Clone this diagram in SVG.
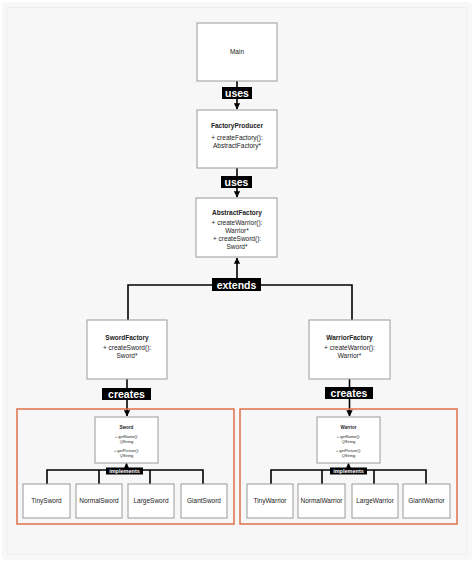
<svg xmlns="http://www.w3.org/2000/svg" width="474" height="562" viewBox="0 0 474 562">
<style>
.box{fill:#fff;stroke:#9a9a9a;stroke-width:1}
.frame{fill:none;stroke:#e0704a;stroke-width:1.5}
.t{font-family:"Liberation Sans",Arial,sans-serif;fill:#222;text-anchor:middle}
.b{font-weight:bold}
.lbl{fill:#000}
.lt{font-family:"Liberation Sans",Arial,sans-serif;font-weight:bold;fill:#fff;text-anchor:middle}
.c{fill:none;stroke:#000;stroke-width:1.6}
</style>
<defs>
<marker id="ah" viewBox="0 0 6 6" refX="5.5" refY="3" markerWidth="4" markerHeight="4" orient="auto">
<path d="M0,0 L6,3 L0,6 Z" fill="#000"/>
</marker>
</defs>
<rect x="0" y="0" width="474" height="562" fill="#ffffff"/>
<rect x="2" y="2" width="470" height="558" rx="4" fill="#f7f7f7"/>
<rect x="7.5" y="7.5" width="459" height="547" fill="none" stroke="#efefef" stroke-width="1"/>

<g id="connectors">
<line class="c" x1="237" y1="81" x2="237" y2="109" marker-end="url(#ah)"/>
<line class="c" x1="237" y1="168" x2="237" y2="197" marker-end="url(#ah)"/>
<path class="c" d="M128,321 V285 H352 V321"/>
<line class="c" x1="237" y1="285" x2="237" y2="258" marker-end="url(#ah)"/>
<line class="c" x1="127" y1="379" x2="127" y2="416" marker-end="url(#ah)"/>
<line class="c" x1="349.5" y1="379" x2="349.5" y2="416" marker-end="url(#ah)"/>
<path class="c" d="M47,484 V470 H203 V484 M99,470 V484 M150,470 V484"/>
<line class="c" x1="126.5" y1="470" x2="126.5" y2="463.5" marker-end="url(#ah)"/>
<path class="c" d="M271,484 V470 H426 V484 M322,470 V484 M374,470 V484"/>
<line class="c" x1="348.5" y1="470" x2="348.5" y2="463.5" marker-end="url(#ah)"/>
<rect class="lbl" x="222" y="87" width="30" height="12"/>
<text class="lt" x="237" y="97" font-size="10.5">uses</text>
<rect class="lbl" x="221" y="176" width="31" height="12"/>
<text class="lt" x="236.5" y="186" font-size="10.5">uses</text>
<rect class="lbl" x="212" y="278" width="49" height="13"/>
<text class="lt" x="236.5" y="288.5" font-size="10.5">extends</text>
<rect class="lbl" x="102" y="388" width="49" height="12"/>
<text class="lt" x="126.5" y="398" font-size="10.5">creates</text>
<rect class="lbl" x="325" y="387" width="48" height="12"/>
<text class="lt" x="349" y="397" font-size="10.5">creates</text>
<rect class="lbl" x="106" y="467.5" width="37" height="7"/>
<text class="lt" x="124.5" y="473" font-size="5.5">implements</text>
<rect class="lbl" x="330" y="467.5" width="37" height="7"/>
<text class="lt" x="348.5" y="473" font-size="5.5">implements</text>
</g>

<rect class="frame" x="17" y="409" width="217" height="115"/>
<rect class="frame" x="240" y="409" width="217" height="115"/>

<g id="main">
<rect class="box" x="197" y="23" width="80" height="58"/>
<text class="t" x="237" y="54" font-size="6.5">Main</text>
</g>
<g id="factoryproducer">
<rect class="box" x="197" y="110" width="80" height="58"/>
<text class="t b" x="237" y="128" font-size="6.5">FactoryProducer</text>
<text class="t" x="237" y="140" font-size="6.5">+ createFactory():</text>
<text class="t" x="237" y="148" font-size="6.5">AbstractFactory*</text>
</g>
<g id="abstractfactory">
<rect class="box" x="196" y="198" width="81" height="59"/>
<text class="t b" x="237" y="215" font-size="6.5">AbstractFactory</text>
<text class="t" x="237" y="225" font-size="6.5">+ createWarrior():</text>
<text class="t" x="237" y="233" font-size="6.5">Warrior*</text>
<text class="t" x="237" y="241" font-size="6.5">+ createSword():</text>
<text class="t" x="237" y="249" font-size="6.5">Sword*</text>
</g>
<g id="swordfactory">
<rect class="box" x="87" y="320" width="80" height="59"/>
<text class="t b" x="127" y="340" font-size="6.5">SwordFactory</text>
<text class="t" x="127" y="350" font-size="6.5">+ createSword():</text>
<text class="t" x="127" y="358" font-size="6.5">Sword*</text>
</g>
<g id="warriorfactory">
<rect class="box" x="309" y="320" width="81" height="59"/>
<text class="t b" x="349.5" y="340" font-size="6.5">WarriorFactory</text>
<text class="t" x="349.5" y="350" font-size="6.5">+ createWarrior():</text>
<text class="t" x="349.5" y="358" font-size="6.5">Warrior*</text>
</g>
<g id="sword">
<rect class="box" x="95" y="417" width="63" height="46"/>
<text class="t b" x="126.5" y="429" font-size="4.5">Sword</text>
<text class="t" x="126.5" y="438" font-size="4">+ getName():</text>
<text class="t" x="126.5" y="443" font-size="4">QString</text>
<text class="t" x="126.5" y="452" font-size="4">+ getPicture():</text>
<text class="t" x="126.5" y="457" font-size="4">QString</text>
</g>
<g id="warrior">
<rect class="box" x="317" y="417" width="63" height="46"/>
<text class="t b" x="348.5" y="429" font-size="4.5">Warrior</text>
<text class="t" x="348.5" y="438" font-size="4">+ getName():</text>
<text class="t" x="348.5" y="443" font-size="4">QString</text>
<text class="t" x="348.5" y="452" font-size="4">+ getPicture():</text>
<text class="t" x="348.5" y="457" font-size="4">QString</text>
</g>
<g id="tinysword"><rect class="box" x="23" y="484" width="47" height="34"/><text class="t" x="46.5" y="503" font-size="6.5">TinySword</text></g>
<g id="normalsword"><rect class="box" x="76" y="484" width="46" height="34"/><text class="t" x="99" y="503" font-size="6.5">NormalSword</text></g>
<g id="largesword"><rect class="box" x="128" y="484" width="46" height="34"/><text class="t" x="151" y="503" font-size="6.5">LargeSword</text></g>
<g id="giantsword"><rect class="box" x="181" y="484" width="46" height="34"/><text class="t" x="204" y="503" font-size="6.5">GiantSword</text></g>
<g id="tinywarrior"><rect class="box" x="247" y="484" width="46" height="34"/><text class="t" x="270" y="503" font-size="6.5">TinyWarrior</text></g>
<g id="normalwarrior"><rect class="box" x="298" y="484" width="47" height="34"/><text class="t" x="321.5" y="503" font-size="6.5">NormalWarrior</text></g>
<g id="largewarrior"><rect class="box" x="352" y="484" width="46" height="34"/><text class="t" x="375" y="503" font-size="6.5">LargeWarrior</text></g>
<g id="giantwarrior"><rect class="box" x="403" y="484" width="47" height="34"/><text class="t" x="426.5" y="503" font-size="6.5">GiantWarrior</text></g>
</svg>
